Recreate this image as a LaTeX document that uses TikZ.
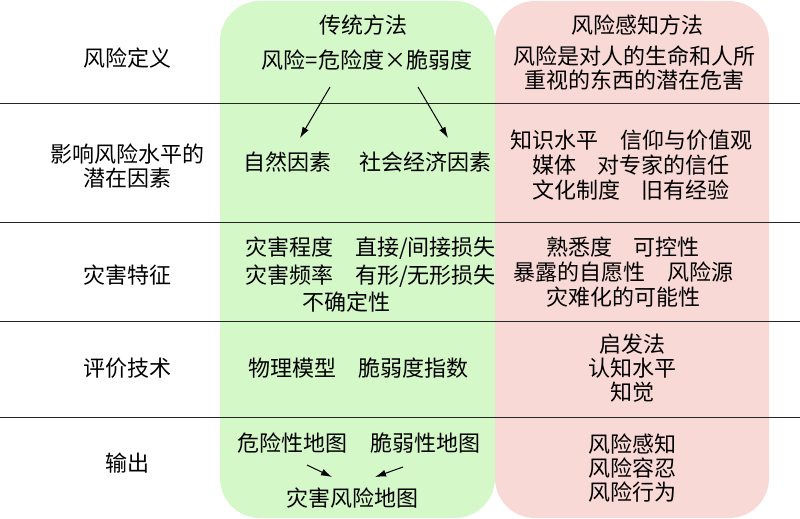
\documentclass[tikz,border=0pt]{standalone}
\usepackage{fontspec}
\setmainfont{Noto Sans CJK SC}
\usetikzlibrary{arrows.meta}
\definecolor{tradgreen}{RGB}{213,248,201}
\definecolor{percpink}{RGB}{249,217,213}

\begin{document}
\begin{tikzpicture}[x=1pt, y=-1pt,
    every node/.style={font=\fontsize{22}{24}\selectfont, align=center, inner sep=2pt},
    column/.style={rounded corners=40pt},
    rowline/.style={line width=0.9pt, black!85},
    flow/.style={-{Latex[length=11pt,width=7pt]}, line width=1pt}]
\useasboundingbox (0,0) rectangle (800,519);
\fill[column, tradgreen] (220,1) rectangle (495,518);
\fill[column, percpink] (495,1) rectangle (769,518);
\foreach \y in {103,222,321,417}
    \draw[rowline] (0,\y) -- (800,\y);

% row headings
\node (defn) at (127,58) {风险定义};
\node (factors) at (127,166) {影响风险水平的\\潜在因素};
\node (traits) at (127,275) {灾害特征};
\node (method) at (127,368) {评价技术};
\node (output) at (127,463) {输出};

% traditional approach
\node (trad) at (363,25) {传统方法};
\node (formula) at (367,60) {风险=危险度×脆弱度};
\node (natural) at (287,162) {自然因素};
\node (social) at (425,162) {社会经济因素};
\node[align=left, anchor=west] (tradtraits) at (243,275) {灾害程度\quad 直接/间接损失\\[3.5pt]灾害频率\quad 有形/无形损失\\[3.5pt]\hspace{57pt}不确定性};
\node (tradmethod) at (358,368) {物理模型\quad 脆弱度指数};
\node (hazmap) at (292,443) {危险性地图};
\node (vulmap) at (425,443) {脆弱性地图};
\node (riskmap) at (352,498) {灾害风险地图};

% risk perception approach
\node (perc) at (637,25) {风险感知方法};
\node (percdefn) at (634,68) {风险是对人的生命和人所\\重视的东西的潜在危害};
\node (percfactors) at (631,165) {知识水平\quad 信仰与价值观\\[1pt]媒体\quad 对专家的信任\\[1pt]文化制度\quad 旧有经验};
\node (perctraits) at (623,272) {熟悉度\quad 可控性\\[1pt]暴露的自愿性\quad 风险源\\[1pt]灾难化的可能性};
\node (percmethod) at (632,368) {启发法\\认知水平\\知觉};
\node (percoutput) at (632,468) {风险感知\\风险容忍\\风险行为};

\draw[flow] ([xshift=-37pt,yshift=-27pt]formula.center) -- ([xshift=13pt,yshift=24pt]natural.center);
\draw[flow] ([xshift=51pt,yshift=-27pt]formula.center) -- ([xshift=23pt,yshift=24pt]social.center);
\draw[flow] ([xshift=15pt,yshift=-22pt]hazmap.center) -- ([xshift=-20pt,yshift=21pt]riskmap.center);
\draw[flow] ([xshift=-22pt,yshift=-24pt]vulmap.center) -- ([xshift=23pt,yshift=21pt]riskmap.center);

\end{tikzpicture}
\end{document}
